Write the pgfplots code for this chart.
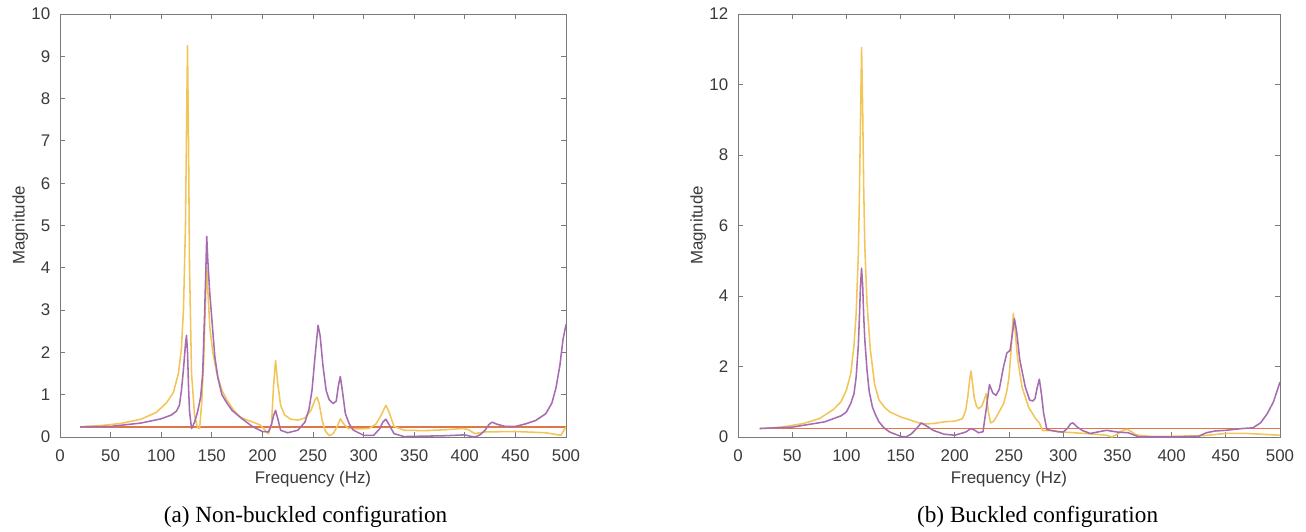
\documentclass[border=0pt]{standalone}
\usepackage{pgfplots}
\pgfplotsset{compat=1.18}
\usepackage{fontspec}
\setmainfont{Liberation Serif}
\newfontfamily\axfont{Liberation Sans}

\definecolor{mlyellow}{HTML}{EDB120}
\definecolor{mlpurple}{HTML}{7E2F8E}
\definecolor{mlred}{HTML}{D95319}
\definecolor{axgray}{HTML}{7A7A7A}
\definecolor{txtgray}{HTML}{3A3A3A}

% left panel: non-buckled
\pgfplotstableread{
f m
20 0.24
40 0.27
60 0.32
80 0.42
95 0.58
105 0.80
112 1.05
117 1.5
120 2.1
122 3.0
124 5.0
125 7.2
126 9.25
127 7.0
128 4.0
130 1.5
133 0.5
136 0.22
138 0.2
140 0.8
142 1.8
144 3.4
145 4.0
146 3.5
148 2.6
151 2.0
155 1.5
160 1.1
165 0.87
172 0.62
178 0.47
185 0.40
191 0.35
198 0.28
203 0.15
206 0.08
209 0.3
211 1.2
213 1.81
215 1.3
218 0.75
222 0.52
228 0.42
235 0.40
242 0.45
248 0.63
252 0.88
254 0.94
256 0.8
259 0.4
262 0.15
266 0.03
270 0.08
274 0.25
277 0.43
280 0.32
285 0.2
295 0.19
305 0.2
312 0.3
317 0.5
322 0.75
325 0.6
330 0.25
340 0.16
360 0.15
380 0.17
398 0.2
403 0.18
410 0.08
420 0.12
450 0.13
480 0.1
495 0.04
500 0.24
}\ayellow

\pgfplotstableread{
f m
20 0.24
50 0.25
80 0.33
100 0.43
110 0.52
115 0.61
118 0.75
120 1.1
122 1.6
124 2.2
125 2.4
126 2.0
127 1.2
128 0.6
130 0.2
133 0.35
136 0.6
139 0.95
141 1.5
143 3.0
145 4.74
146 4.2
148 3.4
150 2.8
153 1.9
156 1.4
160 1.0
165 0.8
170 0.63
180 0.43
190 0.25
200 0.13
206 0.12
209 0.3
211 0.5
213 0.63
215 0.45
218 0.16
225 0.1
235 0.16
242 0.35
246 0.65
249 1.1
252 1.9
255 2.64
257 2.4
260 1.65
263 1.1
266 0.88
270 0.79
273 0.85
275 1.2
277 1.43
279 1.1
282 0.55
286 0.3
290 0.16
300 0.04
310 0.04
316 0.2
319 0.35
322 0.42
325 0.3
330 0.08
340 0.01
360 0.02
380 0.03
400 0.05
405 0.02
410 0.0
415 0.05
420 0.16
424 0.3
427 0.35
432 0.3
440 0.25
450 0.25
460 0.31
470 0.39
480 0.55
486 0.8
490 1.15
494 1.7
497 2.3
500 2.66
}\apurple

% right panel: buckled
\pgfplotstableread{
f m
20 0.24
40 0.28
60 0.38
75 0.52
88 0.78
95 1.0
100 1.33
104 1.8
107 2.6
109 3.5
111 5.2
112 6.8
113 9.0
114 11.05
115 9.3
116 7.0
117 5.4
119 3.8
122 2.5
126 1.5
130 1.05
135 0.85
140 0.71
150 0.57
160 0.47
170 0.37
180 0.38
190 0.43
200 0.45
207 0.52
210 0.75
212 1.15
214 1.7
215 1.87
216 1.6
218 1.1
220 0.88
222 0.8
225 0.88
227 1.05
229 1.23
231 0.7
233 0.4
236 0.45
240 0.66
245 0.95
248 1.3
250 1.7
252 2.5
254 3.51
256 2.9
258 2.2
262 1.42
268 0.85
275 0.5
278 0.4
281 0.18
290 0.18
300 0.14
320 0.1
340 0.05
345 0.0
350 0.08
355 0.19
359 0.22
363 0.15
367 0.06
380 0.02
400 0.02
430 0.04
450 0.1
470 0.1
500 0.05
}\byellow

\pgfplotstableread{
f m
20 0.24
50 0.28
80 0.43
95 0.6
100 0.71
104 0.95
107 1.23
109 1.7
111 2.6
112 3.4
113 4.3
114 4.79
115 4.3
116 3.4
117 2.75
119 1.9
121 1.3
124 0.85
127 0.62
130 0.43
135 0.25
140 0.14
150 0.02
155 0.0
160 0.09
165 0.25
169 0.4
172 0.35
180 0.19
190 0.08
200 0.05
210 0.14
215 0.24
218 0.2
222 0.12
226 0.15
229 0.8
232 1.49
235 1.25
238 1.18
241 1.35
245 2.0
248 2.38
251 2.46
253 2.9
255 3.36
257 3.0
260 2.18
265 1.42
269 1.05
272 1.02
274 1.09
276 1.4
278 1.64
280 1.2
282 0.66
285 0.21
295 0.15
300 0.14
304 0.25
307 0.38
309 0.4
313 0.28
318 0.18
325 0.1
333 0.15
340 0.19
350 0.14
360 0.12
370 0.0
400 0.0
425 0.02
432 0.12
440 0.17
450 0.19
465 0.24
475 0.26
482 0.4
488 0.65
494 1.0
500 1.56
}\bpurple

\pgfplotstableread{
f m
20 0.24
500 0.24
}\flat

\pgfplotsset{
  mlstyle/.style={
    scale only axis, anchor=south west,
    height=10.575cm,
    xmin=0, xmax=500, ymin=0,
    xtick={0,50,...,500},
    tick align=inside,
    major tick length=1.2mm,
    axis line style={axgray, line width=0.7pt},
    every tick/.style={axgray, line width=0.6pt},
    /pgf/number format/assume math mode=true,
    ticklabel style={font=\axfont\fontsize{12}{14}\selectfont, text=txtgray},
    xticklabel style={yshift=-0.19cm},
    yticklabel style={xshift=-0.12cm},
    label style={font=\axfont\fontsize{12}{14}\selectfont, text=txtgray},
    xlabel style={yshift=0cm},
    ylabel style={yshift=-0.16cm},
    xlabel={Frequency (Hz)},
    ylabel={Magnitude},
    every axis plot/.append style={line width=1.1pt, line join=round},
  },
}

\begin{document}
\begin{tikzpicture}
\path[use as bounding box] (0,0) rectangle (32.65cm,13.275cm);

\begin{axis}[mlstyle, at={(1.5cm,2.35cm)}, width=12.65cm,
  ymax=10, ytick={0,1,...,10}]
\addplot[mlred!80, no marks] table[x=f, y=m] {\flat};
\addplot[mlyellow!75, no marks] table[x=f, y=m] {\ayellow};
\addplot[mlpurple!70, no marks] table[x=f, y=m] {\apurple};
\end{axis}

\begin{axis}[mlstyle, at={(18.45cm,2.35cm)}, width=13.55cm,
  ymax=12, ytick={0,2,...,12}]
\addplot[mlred!80, no marks] table[x=f, y=m] {\flat};
\addplot[mlyellow!75, no marks] table[x=f, y=m] {\byellow};
\addplot[mlpurple!70, no marks] table[x=f, y=m] {\bpurple};
\end{axis}

\node[font=\fontsize{16.5}{19}\selectfont] at (7.64cm,0.35cm) {(a) Non-buckled configuration};
\node[font=\fontsize{16.5}{19}\selectfont] at (25.94cm,0.35cm) {(b) Buckled configuration};
\end{tikzpicture}
\end{document}
